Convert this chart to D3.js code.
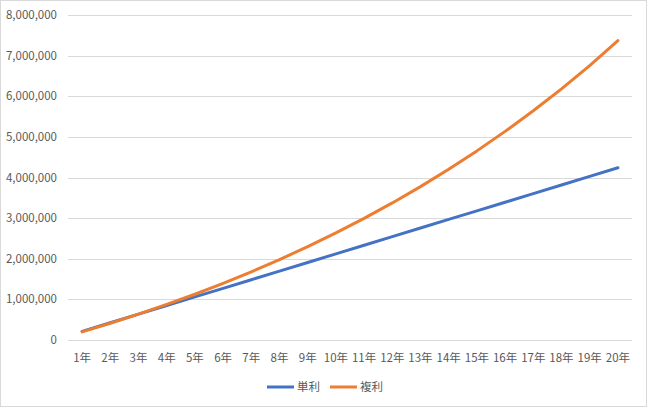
<!DOCTYPE html>
<html><head><meta charset="utf-8">
<script src="https://cdn.jsdelivr.net/npm/d3@7"></script>
<style>
html,body{margin:0;padding:0;background:#fff;}
svg{display:block;}
text{font-family:"Noto Sans CJK JP","Noto Sans",sans-serif;fill:#595959;}
</style></head>
<body>
<svg id="c" width="647" height="408"></svg>
<script>
const categories = ["1年","2年","3年","4年","5年","6年","7年","8年","9年","10年","11年","12年","13年","14年","15年","16年","17年","18年","19年","20年"];
const simpleValues = [212000,424000,636000,848000,1060000,1272000,1484000,1696000,1908000,2120000,2332000,2544000,2756000,2968000,3180000,3392000,3604000,3816000,4028000,4240000];
const compoundValues = [200000,412000,637000,875000,1127000,1395000,1679000,1979000,2298000,2636000,2994000,3374000,3776000,4203000,4655000,5135000,5643000,6181000,6752000,7370000];
const yTicks = [0,1000000,2000000,3000000,4000000,5000000,6000000,7000000,8000000];
const seriesNames = ["単利","複利"];
const colors = ["#4472C4","#ED7D31"];

(function(){
const svg = d3.select("#c");
svg.append("rect").attr("x",0.5).attr("y",0.5).attr("width",646).attr("height",406)
  .attr("fill","#fff").attr("stroke","#d9d9d9");

const mL = 68, mR = 632, mT = 15, mB = 340;
const x = d3.scaleBand().domain(categories).range([mL,mR]);
const y = d3.scaleLinear().domain([0,8000000]).range([mB,mT]);

svg.append("g").selectAll("line").data(yTicks).join("line")
  .attr("x1",mL).attr("x2",mR)
  .attr("y1",d=>Math.round(y(d))+0.5).attr("y2",d=>Math.round(y(d))+0.5)
  .attr("stroke","#d9d9d9").attr("stroke-width",1);

const fmt = d3.format(",");
svg.append("g").selectAll("text").data(yTicks).join("text")
  .attr("x",57).attr("y",d=>y(d)).attr("dy","0.35em")
  .attr("text-anchor","end").attr("font-size","11.5px").text(d=>fmt(d));

svg.append("g").selectAll("text").data(categories).join("text")
  .attr("x",d=>x(d)+x.bandwidth()/2).attr("y",358).attr("dy","0.35em")
  .attr("text-anchor","middle").attr("font-size","11.5px").text(d=>d);

const line = d3.line().x((d,i)=>x(categories[i])+x.bandwidth()/2).y(d=>y(d));
[simpleValues, compoundValues].forEach((vals,k)=>{
  svg.append("path").datum(vals).attr("d",line)
    .attr("fill","none").attr("stroke",colors[k]).attr("stroke-width",3)
    .attr("stroke-linejoin","round").attr("stroke-linecap","round");
});

const legendItems = [{x:267,name:seriesNames[0],c:colors[0]},{x:330,name:seriesNames[1],c:colors[1]}];
const lg = svg.append("g");
legendItems.forEach(it=>{
  lg.append("line").attr("x1",it.x).attr("x2",it.x+27).attr("y1",387).attr("y2",387)
    .attr("stroke",it.c).attr("stroke-width",3);
  lg.append("text").attr("x",it.x+30).attr("y",387).attr("dy","0.35em")
    .attr("font-size","11.5px").text(it.name);
});
})();
</script>
</body></html>
